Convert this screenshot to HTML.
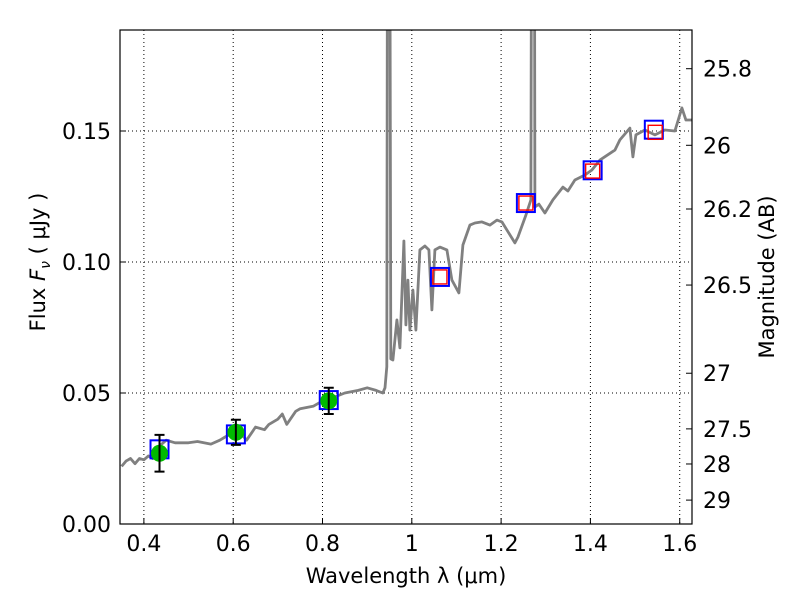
<!DOCTYPE html>
<html><head><meta charset="utf-8"><style>
body{margin:0;background:#fff;}
svg text{font-family:"DejaVu Sans","Liberation Sans",sans-serif;fill:#000;}
</style></head><body>
<svg id="chart" width="800" height="600" xmlns="http://www.w3.org/2000/svg">
<rect width="800" height="600" fill="#fff"/>
<g id="grid"></g><g id="spec"></g><g id="marks"></g><g id="axes"></g>
</svg>
<script>
const specWl=[0.35,0.36,0.37,0.38,0.39,0.40,0.41,0.42,0.43,0.45,0.47,0.50,0.52,0.55,0.57,0.58,0.60,0.62,0.63,0.65,0.67,0.68,0.70,0.71,0.72,0.74,0.75,0.78,0.80,0.82,0.85,0.88,0.90,0.92,0.935,0.940,0.944,0.946,0.950,0.953,0.9577,0.9666,0.9733,0.9823,0.9868,0.9912,0.9957,1.0025,1.0092,1.0182,1.0293,1.0383,1.045,1.0517,1.0629,1.0786,1.0898,1.1055,1.1145,1.1302,1.1413,1.157,1.1749,1.1906,1.2018,1.2309,1.2376,1.2555,1.2667,1.269,1.2700,1.2740,1.2757,1.2847,1.2981,1.316,1.3384,1.3496,1.3653,1.3877,1.4034,1.4213,1.4549,1.466,1.4884,1.4952,1.5019,1.522,1.5444,1.5668,1.5892,1.6049,1.6139,1.6273];
const specFlux=[0.022,0.024,0.025,0.023,0.025,0.0245,0.026,0.025,0.029,0.032,0.031,0.031,0.0315,0.0305,0.032,0.033,0.035,0.034,0.032,0.037,0.036,0.038,0.040,0.042,0.038,0.043,0.044,0.045,0.047,0.048,0.050,0.051,0.052,0.051,0.050,0.052,0.060,0.30,0.30,0.063,0.0626,0.0779,0.0672,0.108,0.076,0.0931,0.074,0.0893,0.074,0.1046,0.1061,0.1046,0.0817,0.1046,0.1057,0.1046,0.0931,0.0882,0.1065,0.1141,0.1149,0.1153,0.1141,0.116,0.1153,0.1073,0.1095,0.1179,0.1237,0.30,0.30,0.30,0.121,0.1221,0.1187,0.1237,0.1286,0.1271,0.1313,0.1332,0.1351,0.1389,0.1427,0.1466,0.1511,0.1401,0.1485,0.1504,0.1485,0.1504,0.1500,0.1588,0.1542,0.1542];
const photWl=[0.435,0.606,0.814];
const photFlux=[0.027,0.035,0.047];
const photErr=[0.007,0.0048,0.005];
const modelWl=[0.435,0.606,0.814,1.063,1.2555,1.405,1.542];
const modelFlux=[0.0285,0.0342,0.0473,0.0943,0.1225,0.135,0.1505];
const predWl=[1.063,1.2555,1.405,1.545];
const predFlux=[0.0943,0.1225,0.1347,0.1495];
const xTicks=[0.4,0.6,0.8,1.0,1.2,1.4,1.6];
const xTickLabels=["0.4","0.6","0.8","1","1.2","1.4","1.6"];
const yTicks=[0,0.05,0.10,0.15];
const yTickLabels=["0.00","0.05","0.10","0.15"];
const magTicks=[25.8,26,26.2,26.5,27,27.5,28,29];
const magTickLabels=["25.8","26","26.2","26.5","27","27.5","28","29"];

const L=120,R=692,T=30,B=524,x0=0.3465,x1=1.6275,y0=0,y1=0.18855;
const X=v=>L+(v-x0)/(x1-x0)*(R-L);
const Y=v=>B-(v-y0)/(y1-y0)*(B-T);
const NS="http://www.w3.org/2000/svg";
function mk(parent,tag,attrs,text){const e=document.createElementNS(NS,tag);for(const k in attrs)e.setAttribute(k,attrs[k]);if(text!==undefined)e.textContent=text;document.getElementById(parent).appendChild(e);return e;}

const defs=document.createElementNS(NS,'defs');
defs.innerHTML='<clipPath id="pc"><rect x="120" y="30" width="572" height="494"/></clipPath>';
document.getElementById('chart').prepend(defs);

xTicks.forEach((t,i)=>{
 const g=mk('grid','line',{x1:X(t),x2:X(t),y1:T,y2:B,stroke:'#000','stroke-width':1,'stroke-dasharray':'1,3'});
 
 
 const tk=mk('axes','line',{x1:X(t),x2:X(t),y1:B,y2:B-6,stroke:'#000'});
 
 
 const lb=mk('axes','text',{x:X(t),y:B+27,'font-size':22,'text-anchor':'middle'},xTickLabels[i]);
 
 
});
yTicks.forEach((t,i)=>{
 if(t>0){const g=mk('grid','line',{x1:L,x2:R,y1:Y(t),y2:Y(t),stroke:'#000','stroke-width':1,'stroke-dasharray':'1,3'});
 
 }
 const tk=mk('axes','line',{x1:L,x2:L+6,y1:Y(t),y2:Y(t),stroke:'#000'});
 
 
 const lb=mk('axes','text',{x:L-9,y:Y(t)+8,'font-size':22,'text-anchor':'end'},yTickLabels[i]);
 
 
});
magTicks.forEach((m,i)=>{
 const f=Math.pow(10,(23.9-m)/2.5);
 const tk=mk('axes','line',{x1:R-6,x2:R,y1:Y(f),y2:Y(f),stroke:'#000'});
 
 
 const lb=mk('axes','text',{x:R+11,y:Y(f)+8,'font-size':22},magTickLabels[i]);
 
 
});

const pts=specWl.map((w,i)=>X(w).toFixed(1)+','+Y(specFlux[i]).toFixed(1)).join(' ');
const sp=mk('spec','polyline',{points:pts,fill:'none',stroke:'#808080','stroke-width':2.8,'clip-path':'url(#pc)','stroke-linejoin':'round'});



modelWl.forEach((w,i)=>{
 const r=mk('marks','rect',{x:X(w)-9,y:Y(modelFlux[i])-9,width:18,height:18,fill:'none',stroke:'#0000ff','stroke-width':2});
 
 
});
predWl.forEach((w,i)=>{
 const r=mk('marks','rect',{x:X(w)-7,y:Y(predFlux[i])-7,width:14,height:14,fill:'none',stroke:'#ff0000','stroke-width':1.4});
 
 
});
photWl.forEach((w,i)=>{
 const c=mk('marks','circle',{cx:X(w),cy:Y(photFlux[i]),r:8.5,fill:'#00bb00'});
 
 
 const x=X(w),ya=Y(photFlux[i]+photErr[i]),yb=Y(photFlux[i]-photErr[i]);
 const e=mk('marks','path',{d:`M${x},${ya}V${yb}M${x-5},${ya}H${x+5}M${x-5},${yb}H${x+5}`,stroke:'#000','stroke-width':2,fill:'none'});
 
 
});
const fr=mk('axes','rect',{x:L,y:T,width:R-L,height:B-T,fill:'none',stroke:'#000','stroke-width':1.2});


const xl=mk('axes','text',{x:406,y:583,'font-size':21,'text-anchor':'middle'},'Wavelength  λ (μm)');


const yl=mk('axes','text',{x:0,y:0,'font-size':21,'text-anchor':'middle',transform:'translate(45,262) rotate(-90)'});
yl.innerHTML='Flux  <tspan font-style="italic">F</tspan><tspan font-style="italic" font-size="14" dy="5">ν</tspan><tspan dy="-5">  ( μJy )</tspan>';


const ml=mk('axes','text',{x:0,y:0,'font-size':21,'text-anchor':'middle',transform:'translate(774,277) rotate(-90)'},'Magnitude (AB)');


</script>
</body></html>
